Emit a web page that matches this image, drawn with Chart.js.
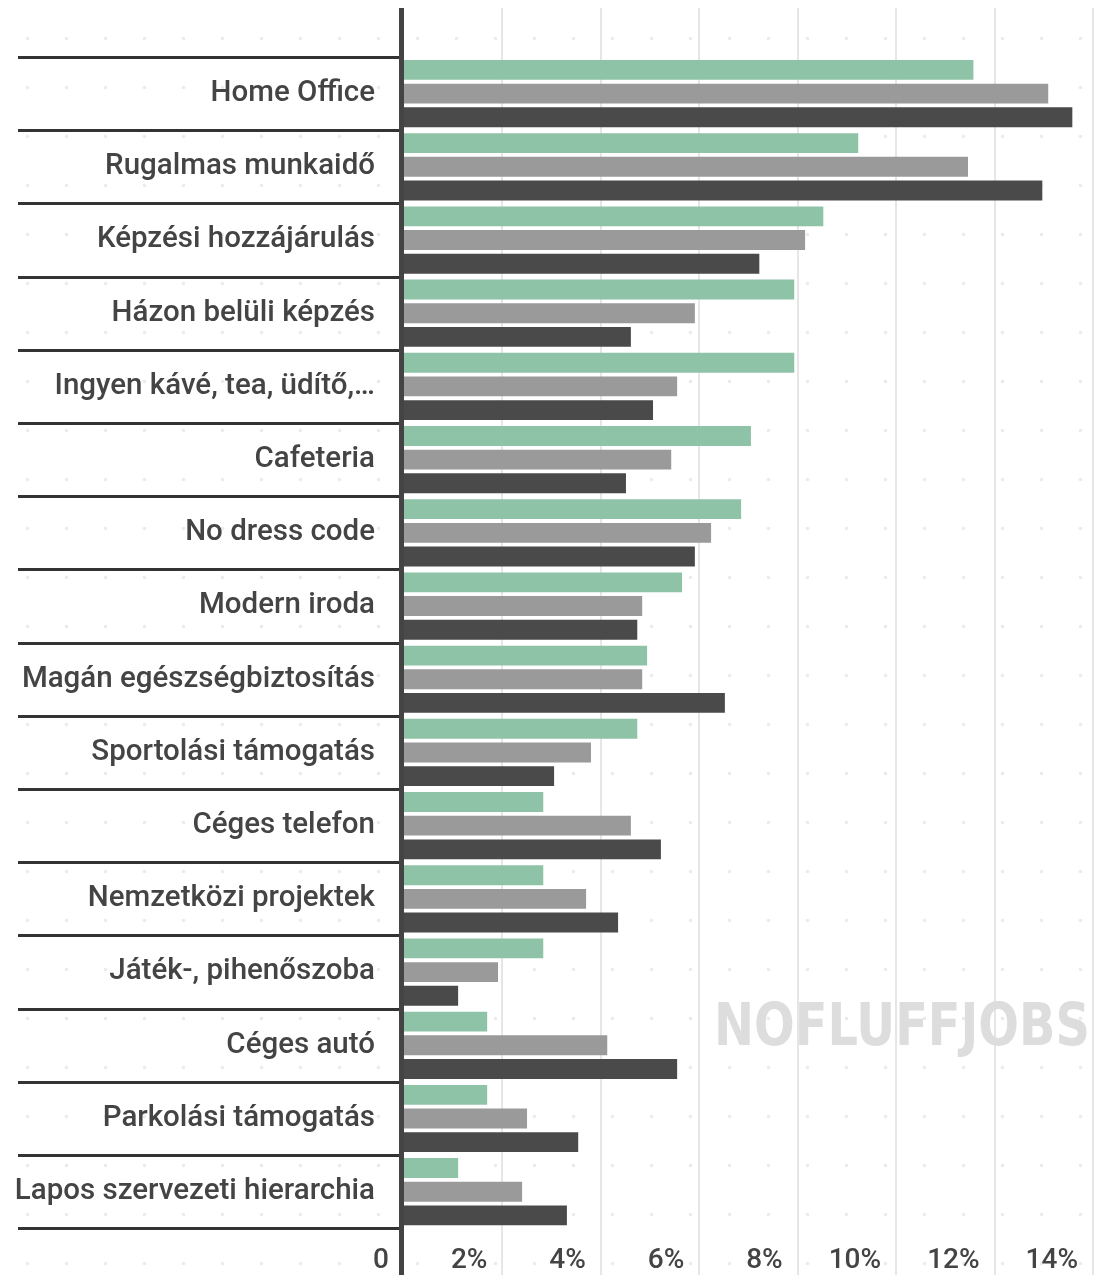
<!DOCTYPE html>
<html lang="hu">
<head>
<meta charset="UTF-8">
<title>Benefitek</title>
<script src="https://cdn.jsdelivr.net/npm/chart.js"></script>
<style>
    html, body {
        margin: 0;
        padding: 0;
        background-color: #ffffff;
        background-image: radial-gradient(circle, #ececec 1.6px, transparent 2.2px);
        background-size: 39px 49px;
        background-position: 8px 14px;
    }
    .wrap {
        position: relative;
        width: 1097px;
        height: 1275px;
    }
</style>
</head>
<body>
<div class="wrap">
    <canvas id="chart"></canvas>
</div>
<script>
// kategóriák
const categories = [
    'Home Office',
    'Rugalmas munkaidő',
    'Képzési hozzájárulás',
    'Házon belüli képzés',
    'Ingyen kávé, tea, üdítő,…',
    'Cafeteria',
    'No dress code',
    'Modern iroda',
    'Magán egészségbiztosítás',
    'Sportolási támogatás',
    'Céges telefon',
    'Nemzetközi projektek',
    'Játék-, pihenőszoba',
    'Céges autó',
    'Parkolási támogatás',
    'Lapos szervezeti hierarchia'
];

// értékek (%)
const seriesGreen = [11.57, 9.23, 8.52, 7.93, 7.93, 7.05, 6.85, 5.65, 4.94, 4.74, 2.83, 2.83, 2.83, 1.69, 1.69, 1.10];
const seriesGray  = [13.09, 11.46, 8.15, 5.91, 5.55, 5.43, 6.24, 4.84, 4.84, 3.80, 4.61, 3.70, 1.91, 4.13, 2.50, 2.40];
const seriesDark  = [13.58, 12.97, 7.22, 4.61, 5.06, 4.51, 5.91, 4.74, 6.52, 3.05, 5.22, 4.35, 1.10, 5.55, 3.54, 3.31];

// tengely feliratok
const tickValues = [0, 2, 4, 6, 8, 10, 12, 14];
const tickLabels = ['0', '2%', '4%', '6%', '8%', '10%', '12%', '14%'];

const textColor = '#444444';

// rácsvonalak, tengely, elválasztók, vízjel
const decorPlugin = {
    id: 'decor',
    beforeDatasetsDraw(chart) {
        const ctx = chart.ctx;
        const x = chart.scales.x;
        const y = chart.scales.y;
        const h = chart.height;
        ctx.save();

        // függőleges rácsvonalak
        ctx.strokeStyle = '#e6e6e6';
        ctx.lineWidth = 2;
        tickValues.forEach(v => {
            if (v === 0) return;
            const px = Math.round(x.getPixelForValue(v));
            ctx.beginPath();
            ctx.moveTo(px, 8);
            ctx.lineTo(px, h);
            ctx.stroke();
        });

        // vízjel
        ctx.fillStyle = '#dddddd';
        ctx.font = '900 58px "DejaVu Sans"';
        ctx.textBaseline = 'alphabetic';
        ctx.textAlign = 'left';
        const mark = 'NOFLUFFJOBS';
        const w = ctx.measureText(mark).width;
        ctx.translate(714, 1045);
        ctx.scale(376 / w, 1);
        ctx.fillText(mark, 0, 0);
        ctx.restore();

        ctx.save();
        // elválasztó vonalak a kategóriák között
        ctx.strokeStyle = '#333333';
        ctx.lineWidth = 3;
        for (let i = 0; i <= categories.length; i++) {
            const py = Math.round(y.getPixelForValue(i - 0.5)) + 0.5;
            ctx.beginPath();
            ctx.moveTo(18, py);
            ctx.lineTo(400, py);
            ctx.stroke();
        }
        ctx.restore();
    },
    afterDatasetsDraw(chart) {
        const ctx = chart.ctx;
        const x = chart.scales.x;
        ctx.save();
        // függőleges tengely
        ctx.fillStyle = '#444444';
        ctx.fillRect(399, 8, 5, chart.height - 8);

        // x tengely feliratai
        ctx.fillStyle = textColor;
        ctx.font = '500 28px Roboto';
        ctx.textAlign = 'right';
        ctx.textBaseline = 'middle';
        tickValues.forEach((v, i) => {
            const px = x.getPixelForValue(v);
            ctx.fillText(tickLabels[i], px - 15, 1261);
        });
        ctx.restore();
    }
};

new Chart(document.getElementById('chart'), {
    type: 'bar',
    data: {
        labels: categories,
        datasets: [
            { label: 'A', data: seriesGreen, backgroundColor: '#8ec3a7' },
            { label: 'B', data: seriesGray, backgroundColor: '#9a9a9a' },
            { label: 'C', data: seriesDark, backgroundColor: '#4a4a4a' }
        ]
    },
    options: {
        indexAxis: 'y',
        responsive: true,
        maintainAspectRatio: false,
        animation: false,
        categoryPercentage: 0.97,
        barPercentage: 0.84,
        layout: {
            padding: { top: 57, bottom: 38, right: 4, left: 0 }
        },
        plugins: {
            legend: { display: false },
            tooltip: { enabled: false }
        },
        scales: {
            x: {
                display: false,
                min: 0,
                max: 14
            },
            y: {
                afterFit(scale) { scale.width = 404; },
                grid: { display: false, drawTicks: false },
                border: { display: false },
                ticks: {
                    color: textColor,
                    padding: 29,
                    font: { family: 'Roboto', size: 29.5, weight: '500' }
                }
            }
        }
    },
    plugins: [decorPlugin]
});
</script>
</body>
</html>
